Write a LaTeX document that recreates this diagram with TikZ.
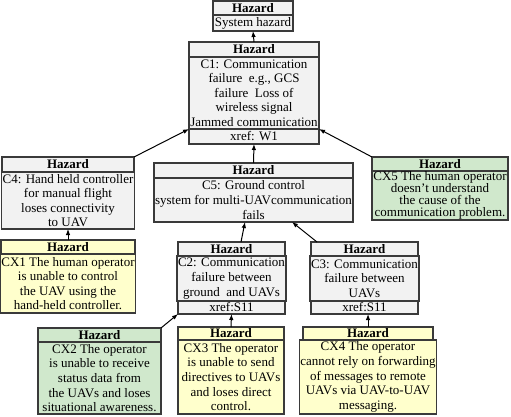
\documentclass[tikz,border=0pt]{standalone}
\usepackage{fontspec}
\setmainfont{Liberation Serif}
\usetikzlibrary{positioning,arrows.meta}
\definecolor{hzgray}{HTML}{F2F2F2}
\definecolor{hzyellow}{HTML}{FFFFCC}
\definecolor{hzgreen}{HTML}{D0E8CC}
\definecolor{hzline}{HTML}{3A3A3A}
\tikzset{
  hz/.style={draw=hzline, line width=1.2pt, outer sep=0pt, inner xsep=1pt, inner ysep=0pt,
    align=center, font=\fontsize{13}{14.6}\selectfont},
  hzhead/.style={hz, anchor=north, font=\fontsize{13}{14}\selectfont\bfseries},
  hzlink/.style={draw=black, line width=1pt, -{Latex[length=6pt,width=4.5pt]}}
}
\begin{document}
\begin{tikzpicture}[x=1pt,y=-1pt]
  \useasboundingbox (0,0) rectangle (511,416);
  % top
  \node[hzhead, fill=hzgray, minimum width=80pt, minimum height=14pt] (sysh) at (253,1) {Hazard};
  \node[hz, fill=hzgray, minimum width=80pt, minimum height=16pt, below=0pt of sysh] (sysb) {System hazard};
  % C1
  \node[hzhead, fill=hzgray, minimum width=130pt, minimum height=15pt] (c1h) at (254,42) {Hazard};
  \node[hz, fill=hzgray, minimum width=130pt, minimum height=72pt, below=0pt of c1h] (c1b)
    {C1: Communication\\failure\ \ e.g., GCS\\failure\ \ Loss of\\wireless signal\\Jammed communication};
  \node[hz, fill=hzgray, minimum width=130pt, minimum height=15pt, below=0pt of c1b] (c1x) {xref: W1};
  % C4
  \node[hzhead, fill=hzgray, minimum width=132pt, minimum height=15pt] (c4h) at (68,157) {Hazard};
  \node[hz, fill=hzgray, minimum width=132pt, minimum height=57pt, below=0pt of c4h] (c4b)
    {C4: Hand held controller\\for manual flight\\loses connectivity\\to UAV};
  % C5
  \node[hzhead, fill=hzgray, minimum width=199pt, minimum height=15pt] (c5h) at (253.5,163) {Hazard};
  \node[hz, fill=hzgray, minimum width=199pt, minimum height=44pt, below=0pt of c5h] (c5b)
    {C5: Ground control\\system for multi-UAVcommunication\\fails};
  % CX5
  \node[hzhead, fill=hzgreen, minimum width=136pt, minimum height=14pt] (cx5h) at (440,157) {Hazard};
  \node[hz, fill=hzgreen, minimum width=136pt, minimum height=49pt, below=0pt of cx5h,
    font=\fontsize{13}{12}\selectfont] (cx5b)
    {CX5 The human operator\\doesn't understand\\the cause of the\\communication problem.};
  % CX1
  \node[hzhead, fill=hzyellow, minimum width=134pt, minimum height=14pt] (cx1h) at (68,240) {Hazard};
  \node[hz, fill=hzyellow, minimum width=134pt, minimum height=59pt, below=0pt of cx1h] (cx1b)
    {CX1 The human operator\\is unable to control\\the UAV using the\\hand-held controller.};
  % C2
  \node[hzhead, fill=hzgray, minimum width=107pt, minimum height=14pt] (c2h) at (231.5,242) {Hazard};
  \node[hz, fill=hzgray, minimum width=107pt, minimum height=45pt, below=0pt of c2h] (c2b)
    {C2: Communication\\failure between\\ground\ \ and UAVs};
  \node[hz, fill=hzgray, minimum width=107pt, minimum height=13pt, below=0pt of c2b] (c2x) {xref:S11};
  % C3
  \node[hzhead, fill=hzgray, minimum width=107pt, minimum height=14pt] (c3h) at (364.5,242) {Hazard};
  \node[hz, fill=hzgray, minimum width=107pt, minimum height=45pt, below=0pt of c3h] (c3b)
    {C3: Communication\\failure between\\UAVs};
  \node[hz, fill=hzgray, minimum width=107pt, minimum height=13pt, below=0pt of c3b] (c3x) {xref:S11};
  % CX2, CX3, CX4
  \node[hzhead, fill=hzgreen, minimum width=123pt, minimum height=14pt] (cx2h) at (99.5,328) {Hazard};
  \node[hz, fill=hzgreen, minimum width=123pt, minimum height=72pt, below=0pt of cx2h] (cx2b)
    {CX2 The operator\\is unable to receive\\status data from\\the UAVs and loses\\situational awareness.};
  \node[hzhead, fill=hzyellow, minimum width=106pt, minimum height=13pt] (cx3h) at (231,327) {Hazard};
  \node[hz, fill=hzyellow, minimum width=106pt, minimum height=74pt, below=0pt of cx3h] (cx3b)
    {CX3 The operator\\is unable to send\\directives to UAVs\\and loses direct\\control.};
  \node[hzhead, fill=hzyellow, minimum width=130pt, minimum height=13pt] (cx4h) at (368,327) {Hazard};
  \node[hz, fill=hzyellow, minimum width=130pt, minimum height=74pt, below=0pt of cx4h] (cx4b)
    {CX4 The operator\\cannot rely on forwarding\\of messages to remote\\UAVs via UAV-to-UAV\\messaging.};
  % links
  \draw[hzlink] (c1h.north) -- (sysb.south);
  \draw[hzlink] (c5h.north) -- (c1x.south);
  \draw[hzlink] (c4h.north east) -- (c1x.north west);
  \draw[hzlink] (cx5h.north west) -- (c1x.north east);
  \draw[hzlink] ([xshift=9.5pt]c2h.north) -- ([xshift=-8.5pt]c5b.south);
  \draw[hzlink] ([xshift=6pt]c3h.north west) -- ([xshift=38.5pt]c5b.south);
  \draw[hzlink] (cx1h.north) -- (c4b.south);
  \draw[hzlink] (cx2h.north east) -- (c2x.south west);
  \draw[hzlink] (cx3h.north) -- (c2x.south);
  \draw[hzlink] (cx4h.north) -- (cx4h.north |- c3x.south);
\end{tikzpicture}
\end{document}
